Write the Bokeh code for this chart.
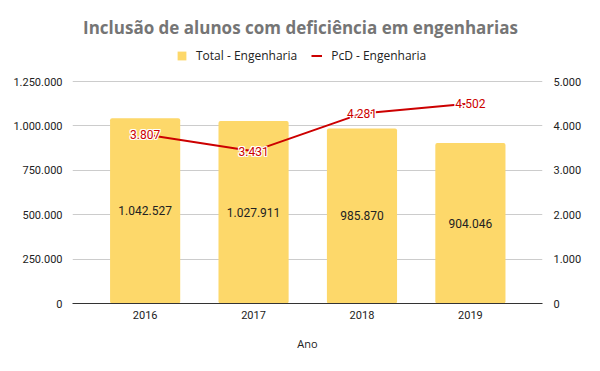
from bokeh.plotting import figure
from bokeh.models import (ColumnDataSource, Range1d, LinearAxis, Legend, LegendItem,
                          CustomJSTickFormatter, FixedTicker, Label)
from bokeh.core.properties import value
from bokeh.embed import file_html
from bokeh.resources import INLINE

years = ["2016", "2017", "2018", "2019"]
total_eng = [1042527, 1027911, 985870, 904046]
pcd_eng = [3807, 3431, 4281, 4502]
left_ticks = [0, 250000, 500000, 750000, 1000000, 1250000]
right_ticks = [0, 1000, 2000, 3000, 4000, 5000]

def fmt(v):
    return f"{v:,}".replace(",", ".")

# layout (pixels)
W, H = 584, 355
FRAME_TOP, FRAME_BOTTOM = 0, 303      # frame spans whole top; data area ends at top tick
DATA_TOP = 81                          # pixel row of the highest tick
frame_h = FRAME_BOTTOM - FRAME_TOP
stretch = frame_h / (FRAME_BOTTOM - DATA_TOP)

idx = list(range(len(years)))
src = ColumnDataSource(dict(
    x=idx,
    total=total_eng,
    half=[v / 2 for v in total_eng],
    total_lbl=[fmt(v) for v in total_eng],
    pcd=pcd_eng,
    pcd_lbl=[fmt(v) for v in pcd_eng],
))

p = figure(width=W, height=H, output_backend="svg", toolbar_location=None,
           x_range=Range1d(-0.67, 3.665), y_range=Range1d(0, left_ticks[-1] * stretch),
           min_border_left=72, min_border_right=36, min_border_top=0,
           min_border_bottom=H - FRAME_BOTTOM)
p.extra_y_ranges = {"pcd": Range1d(0, right_ticks[-1] * stretch)}
p.outline_line_color = None
p.background_fill_color = "white"

bars = p.vbar(x="x", top="total", width=0.647, source=src, color="#FDD86A", line_color=None,
              border_radius=2)
line = p.line(x="x", y="pcd", source=src, y_range_name="pcd", line_color="#CC0000", line_width=2)

p.text(x="x", y="half", text="total_lbl", source=src, text_align="center", text_baseline="middle",
       text_font=value("Roboto"), text_font_size="12px", text_color="#222222")

for dx, dy in [(-1, 0), (1, 0), (0, -1), (0, 1), (-1, -1), (1, 1), (-1, 1), (1, -1)]:
    p.text(x="x", y="pcd", text="pcd_lbl", source=src, y_range_name="pcd",
           text_align="center", text_baseline="middle", x_offset=dx, y_offset=dy,
           text_font=value("Roboto"), text_font_size="12px", text_color="white")
p.text(x="x", y="pcd", text="pcd_lbl", source=src, y_range_name="pcd",
       text_align="center", text_baseline="middle",
       text_font=value("Roboto"), text_font_size="12px", text_color="#CC0000")

tick_js = "return tick.toFixed(0).replace(/\\B(?=(\\d{3})+(?!\\d))/g, '.');"

xa = p.xaxis[0]
xa.ticker = FixedTicker(ticks=idx)
xa.major_label_overrides = {i: y for i, y in enumerate(years)}
xa.axis_line_color = "#333333"
xa.axis_line_width = 1
xa.major_tick_line_color = None
xa.minor_tick_line_color = None
xa.major_label_text_font = "Roboto"
xa.major_label_text_font_size = "11px"
xa.major_label_text_color = "#222222"
xa.major_label_standoff = 1
xa.axis_label = "Ano"
xa.axis_label_text_font = "Open Sans"
xa.axis_label_text_font_style = "normal"
xa.axis_label_text_font_size = "11px"
xa.axis_label_text_color = "#222222"
xa.axis_label_standoff = 14
p.xgrid.visible = False

ya = p.yaxis[0]
ya.ticker = FixedTicker(ticks=left_ticks)
ya.formatter = CustomJSTickFormatter(code=tick_js)
ya.axis_line_color = None
ya.major_tick_line_color = None
ya.minor_tick_line_color = None
ya.major_label_text_font = "Roboto"
ya.major_label_text_font_size = "11px"
ya.major_label_text_color = "#222222"
ya.major_label_standoff = 4
p.ygrid.ticker = FixedTicker(ticks=left_ticks[1:])
p.ygrid.grid_line_color = "#cccccc"

ra = LinearAxis(y_range_name="pcd", ticker=FixedTicker(ticks=right_ticks),
                formatter=CustomJSTickFormatter(code=tick_js))
ra.axis_line_color = None
ra.major_tick_line_color = None
ra.minor_tick_line_color = None
ra.major_label_text_font = "Roboto"
ra.major_label_text_font_size = "11px"
ra.major_label_text_color = "#222222"
ra.major_label_standoff = 5
p.add_layout(ra, "right")

legend = Legend(items=[LegendItem(label="Total - Engenharia", renderers=[bars]),
                       LegendItem(label="PcD - Engenharia", renderers=[line])],
                orientation="horizontal", location=(104, frame_h - 64),
                glyph_width=11, glyph_height=11, label_standoff=9, spacing=14,
                label_text_font="Open Sans", label_text_font_size="12px",
                label_text_color="#222222", padding=0, margin=0,
                border_line_color=None, background_fill_alpha=0)
p.add_layout(legend, "center")

title = Label(x=300 - 72, y=frame_h - 27, x_units="screen", y_units="screen",
              text="Inclusão de alunos com deficiência em engenharias",
              text_align="center", text_baseline="middle",
              text_font="Open Sans", text_font_style="bold",
              text_font_size="17px", text_color="#757575")
p.add_layout(title)

open("out.html", "w").write(file_html(p, INLINE))
